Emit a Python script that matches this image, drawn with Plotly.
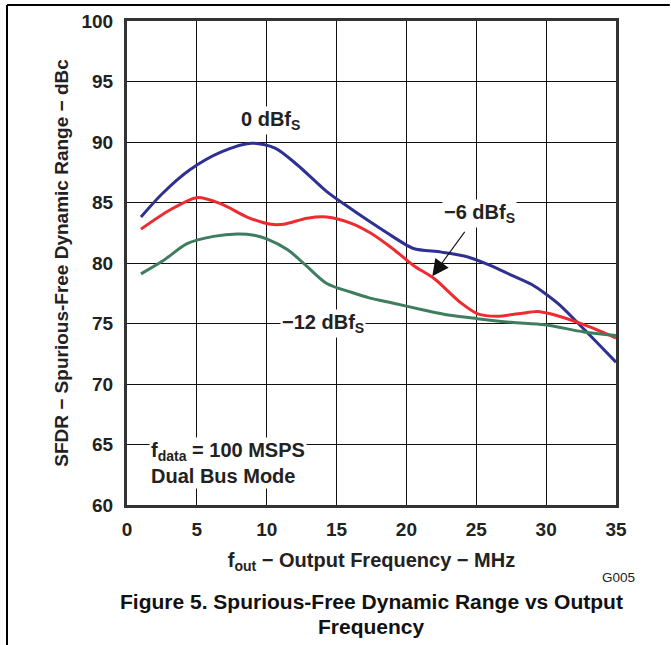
import plotly.graph_objects as go

# ---- data ----
x_0dbfs = [1, 2.5, 4.5, 6.8, 8.9, 10.6, 12.2, 14.3, 16.0, 17.4, 19.0, 20.5, 22.5, 24.4, 26.0, 27.5, 29.0, 29.9, 31.0, 32.3, 33.5, 35]
y_0dbfs = [83.8, 85.7, 87.7, 89.2, 89.9, 89.5, 88.1, 85.9, 84.5, 83.4, 82.2, 81.2, 80.9, 80.5, 79.8, 79.0, 78.2, 77.5, 76.5, 75.0, 73.6, 71.8]

x_6dbfs = [1, 3.1, 5.0, 6.7, 8.6, 10.3, 11.2, 12.9, 14.3, 16.0, 17.4, 19.0, 20.5, 22.0, 23.9, 25.1, 26.5, 28.0, 29.4, 30.3, 32.7, 35]
y_6dbfs = [82.8, 84.4, 85.4, 84.9, 83.8, 83.2, 83.2, 83.7, 83.8, 83.3, 82.5, 81.2, 79.8, 78.7, 76.7, 75.8, 75.6, 75.8, 76.0, 75.8, 74.9, 73.8]

x_12dbfs = [1, 2.6, 4.3, 6.2, 7.9, 9.1, 10.0, 11.5, 12.9, 14.3, 16.0, 17.4, 19.0, 21.3, 23.0, 25.1, 27.5, 29.9, 32.7, 35]
y_12dbfs = [79.1, 80.2, 81.6, 82.2, 82.4, 82.3, 82.0, 81.1, 79.7, 78.3, 77.6, 77.1, 76.7, 76.1, 75.7, 75.4, 75.1, 74.9, 74.3, 74.0]

x_ticks = [0, 5, 10, 15, 20, 25, 30, 35]
y_ticks = [60, 65, 70, 75, 80, 85, 90, 95, 100]

FONT = "Arial, Liberation Sans, sans-serif"

fig = go.Figure()
fig.add_trace(go.Scatter(x=x_0dbfs, y=y_0dbfs, mode="lines", name="0 dBfS",
                         line=dict(color="#2e3192", width=3, shape="spline", smoothing=0.8)))
fig.add_trace(go.Scatter(x=x_6dbfs, y=y_6dbfs, mode="lines", name="-6 dBfS",
                         line=dict(color="#ee2b30", width=3, shape="spline", smoothing=0.8)))
fig.add_trace(go.Scatter(x=x_12dbfs, y=y_12dbfs, mode="lines", name="-12 dBfS",
                         line=dict(color="#3e7d5e", width=3, shape="spline", smoothing=0.8)))

ann_font = dict(family=FONT, size=20, color="#222")
fig.add_annotation(x=10.3, y=91.8, text="<b>0 dBf<sub>S</sub></b>", showarrow=False,
                   font=ann_font, bgcolor="white")
fig.add_annotation(x=25.25, y=84.1, text="<b>−6 dBf<sub>S</sub></b>", showarrow=False,
                   font=ann_font, bgcolor="white")
fig.add_annotation(x=21.85, y=78.9, ax=24.25, ay=82.7, axref="x", ayref="y",
                   text="", showarrow=True, arrowhead=2, arrowsize=3, arrowwidth=1.1,
                   arrowcolor="#111")
fig.add_annotation(x=14.0, y=75.0, text="<b>−12 dBf<sub>S</sub></b>", showarrow=False,
                   font=ann_font, bgcolor="white")
fig.add_annotation(x=1.6, y=64.4, xanchor="left", yanchor="middle",
                   text="<b>f<sub>data</sub> = 100 MSPS</b>", showarrow=False,
                   font=ann_font, bgcolor="white")
fig.add_annotation(x=1.6, y=62.4, xanchor="left", yanchor="middle",
                   text="<b>Dual Bus Mode</b>", showarrow=False,
                   font=ann_font, bgcolor="white")

# caption and id
fig.add_annotation(xref="paper", yref="paper", x=1.005, y=-0.149, xanchor="center", yanchor="middle",
                   text="G005", showarrow=False, font=dict(family=FONT, size=13.5, color="#222"))
fig.add_annotation(xref="paper", yref="paper", x=0.501, y=-0.200, xanchor="center", yanchor="middle",
                   text="<b>Figure 5. Spurious-Free Dynamic Range vs Output</b>",
                   showarrow=False, font=dict(family=FONT, size=21, color="#111"))
fig.add_annotation(xref="paper", yref="paper", x=0.501, y=-0.252, xanchor="center", yanchor="middle",
                   text="<b>Frequency</b>",
                   showarrow=False, font=dict(family=FONT, size=21, color="#111"))

# page border lines
fig.add_shape(type="line", xref="paper", yref="paper", x0=-0.2454, x1=1.11, y0=1.033, y1=1.033,
              line=dict(color="black", width=2))
fig.add_shape(type="line", xref="paper", yref="paper", x0=-0.2454, x1=-0.2454, y0=1.033, y1=-0.3,
              line=dict(color="black", width=2))

fig.update_layout(
    width=671, height=645,
    margin=dict(l=127, r=55, t=21, b=140),
    paper_bgcolor="white", plot_bgcolor="white",
    showlegend=False,
    font=dict(family=FONT, color="#222"),
)
fig.update_xaxes(range=[0, 35], tickvals=x_ticks, ticktext=[f"<b>{v}</b>" for v in x_ticks],
                 showgrid=True, gridcolor="#111", gridwidth=1, zeroline=False,
                 showline=True, linecolor="#333", linewidth=3, mirror=True,
                 ticks="", tickfont=dict(family=FONT, size=19, color="#222"),
                 ticklabelstandoff=5,
                 title=dict(text="<b>f<sub>out</sub> − Output Frequency − MHz</b>",
                            font=dict(family=FONT, size=20, color="#222"), standoff=15))
fig.update_yaxes(range=[60, 100], tickvals=y_ticks, ticktext=[f"<b>{v}</b>" for v in y_ticks],
                 showgrid=True, gridcolor="#111", gridwidth=1, zeroline=False,
                 showline=True, linecolor="#333", linewidth=3, mirror=True,
                 ticks="", tickfont=dict(family=FONT, size=19, color="#222"),
                 ticklabelstandoff=7,
                 title=dict(text="<b>SFDR − Spurious-Free Dynamic Range − dBc</b>",
                            font=dict(family=FONT, size=19, color="#222"), standoff=8))

fig.write_html("out.html", config={"displayModeBar": False},
               post_script="document.body.style.margin='0px';")
